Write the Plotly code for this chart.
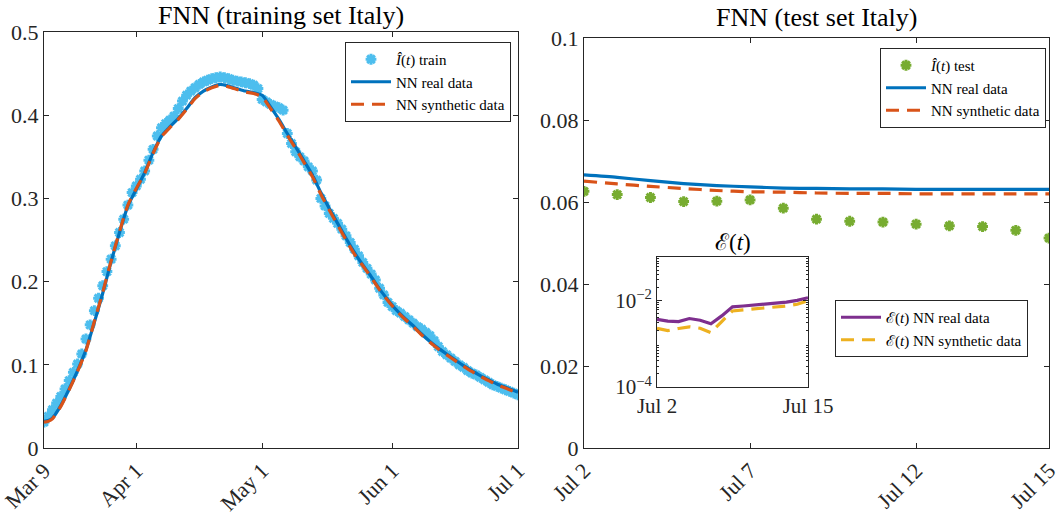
import plotly.graph_objects as go

# ---------------- data ----------------
# Left panel: training set (day index from Mar 9)
train_vals = [0.031, 0.038, 0.046, 0.054, 0.062, 0.071, 0.081, 0.091, 0.101, 0.113,
              0.131, 0.148, 0.165, 0.180, 0.195, 0.212, 0.227, 0.243, 0.259, 0.275,
              0.292, 0.307, 0.315, 0.323, 0.333, 0.346, 0.359, 0.375, 0.385, 0.390,
              0.394, 0.399, 0.408, 0.417, 0.424, 0.429, 0.433, 0.437, 0.440, 0.442,
              0.444, 0.445, 0.446, 0.445, 0.444, 0.442, 0.441, 0.440, 0.439, 0.438,
              0.436, 0.432, 0.419, 0.416, 0.413, 0.411, 0.409, 0.406, 0.378, 0.366,
              0.356, 0.350, 0.345, 0.338, 0.333, 0.322, 0.300, 0.291, 0.282, 0.276,
              0.270, 0.263, 0.255, 0.247, 0.239, 0.231, 0.223, 0.216, 0.209, 0.202,
              0.192, 0.184, 0.175, 0.170, 0.165, 0.162, 0.158, 0.154, 0.150, 0.146,
              0.143, 0.139, 0.135, 0.129, 0.122, 0.116, 0.112, 0.108, 0.104, 0.100,
              0.097, 0.093, 0.090, 0.088, 0.085, 0.082, 0.079, 0.076, 0.074, 0.072,
              0.070, 0.068, 0.066, 0.064]
train_days = list(range(len(train_vals)))

nn_days = [0, 1, 2, 4, 6, 8, 10, 12, 14, 16, 18, 20, 22, 24, 26, 28, 30, 32, 34, 36,
           38, 40, 42, 44, 46, 48, 50, 52, 54, 56, 58, 60, 62, 64, 66, 68, 70, 72, 74,
           76, 78, 80, 82, 84, 86, 88, 90, 92, 94, 96, 98, 100, 102, 104, 106, 108,
           110, 112, 113]
nn_real_train = [0.032, 0.033, 0.036, 0.051, 0.071, 0.093, 0.118, 0.151, 0.186, 0.224,
                 0.259, 0.291, 0.311, 0.331, 0.355, 0.375, 0.386, 0.396, 0.408, 0.421,
                 0.429, 0.434, 0.437, 0.435, 0.432, 0.429, 0.427, 0.424, 0.410, 0.395,
                 0.378, 0.362, 0.345, 0.328, 0.307, 0.288, 0.270, 0.252, 0.235, 0.220,
                 0.206, 0.191, 0.178, 0.166, 0.156, 0.147, 0.137, 0.128, 0.120, 0.113,
                 0.106, 0.099, 0.093, 0.087, 0.082, 0.077, 0.073, 0.069, 0.067]
nn_synth_train = [0.031, 0.032, 0.035, 0.050, 0.070, 0.092, 0.117, 0.152, 0.187, 0.225,
                  0.260, 0.292, 0.312, 0.330, 0.354, 0.374, 0.385, 0.395, 0.407, 0.420,
                  0.428, 0.433, 0.436, 0.434, 0.431, 0.428, 0.426, 0.422, 0.408, 0.393,
                  0.376, 0.360, 0.343, 0.326, 0.305, 0.286, 0.268, 0.250, 0.233, 0.219,
                  0.205, 0.190, 0.177, 0.165, 0.155, 0.146, 0.136, 0.127, 0.119, 0.112,
                  0.105, 0.098, 0.092, 0.086, 0.081, 0.076, 0.072, 0.068, 0.066]
train_tick_pos = [0, 22, 52, 83, 113]
train_tick_txt = ["Mar 9", "Apr 1", "May 1", "Jun 1", "Jul 1"]

# Right panel: test set (15 samples, Jul 2 .. Jul 15)
test_vals = [0.0626, 0.0618, 0.0611, 0.0601, 0.0602, 0.0605, 0.0585, 0.0558,
             0.0553, 0.0551, 0.0546, 0.0542, 0.0540, 0.0531, 0.0512]
nn_real_test = [0.0666, 0.0660, 0.0652, 0.0645, 0.0640, 0.0637, 0.0634, 0.0633,
                0.0632, 0.0632, 0.0631, 0.0631, 0.0631, 0.0631, 0.0631]
nn_synth_test = [0.0651, 0.0644, 0.0638, 0.0633, 0.0628, 0.0625, 0.0624, 0.0622,
                 0.0621, 0.0621, 0.0620, 0.0620, 0.0620, 0.0620, 0.0620]
test_idx = list(range(len(test_vals)))
test_tick_pos = [0, 5, 10, 14]
test_tick_txt = ["Jul 2", "Jul 7", "Jul 12", "Jul 15"]

# Inset: error E(t)
err_real = [0.00363, 0.00331, 0.00324, 0.00380, 0.00347, 0.00288, 0.00437, 0.00708,
            0.00741, 0.00776, 0.00813, 0.00851, 0.00912, 0.0100, 0.0115]
err_synth = [0.00227, 0.00200, 0.00224, 0.00245, 0.00227, 0.00180, 0.00324, 0.00569,
             0.00603, 0.00631, 0.00667, 0.00708, 0.00741, 0.00813, 0.00977]

# ---------------- styling ----------------
W, H = 1063, 514
FONT = "Liberation Serif"
AX = "#262626"
C_TRAIN = "#4DBEEE"
C_TEST = "#77AC30"
C_REAL = "#0072BD"
C_SYN = "#D95319"
C_EREAL = "#7E2F8E"
C_ESYN = "#EDB120"

def px_x(p):
    return p / W

def px_y(p):
    return 1 - p / H

fig = go.Figure()

# Left panel
fig.add_trace(go.Scatter(x=train_days, y=train_vals, mode="markers",
                         name="<i>Î</i>(<i>t</i>) train",
                         marker=dict(symbol="asterisk-open", size=9, color=C_TRAIN,
                                     line=dict(color=C_TRAIN, width=3)),
                         xaxis="x", yaxis="y", legend="legend"))
fig.add_trace(go.Scatter(x=nn_days, y=nn_real_train, mode="lines", name="NN real data",
                         line=dict(color=C_REAL, width=3.2, shape="spline", smoothing=0.6),
                         xaxis="x", yaxis="y", legend="legend"))
fig.add_trace(go.Scatter(x=nn_days, y=nn_synth_train, mode="lines", name="NN synthetic data",
                         line=dict(color=C_SYN, width=3.2, dash="13px,8px", shape="spline", smoothing=0.6),
                         xaxis="x", yaxis="y", legend="legend"))

# Right panel
fig.add_trace(go.Scatter(x=test_idx, y=test_vals, mode="markers",
                         name="<i>Î</i>(<i>t</i>) test",
                         marker=dict(symbol="asterisk-open", size=9, color=C_TEST,
                                     line=dict(color=C_TEST, width=3)),
                         xaxis="x2", yaxis="y2", legend="legend2"))
fig.add_trace(go.Scatter(x=test_idx, y=nn_real_test, mode="lines", name="NN real data",
                         line=dict(color=C_REAL, width=3.2, shape="spline", smoothing=0.6),
                         xaxis="x2", yaxis="y2", legend="legend2"))
fig.add_trace(go.Scatter(x=test_idx, y=nn_synth_test, mode="lines", name="NN synthetic data",
                         line=dict(color=C_SYN, width=3.2, dash="13px,8px", shape="spline", smoothing=0.6),
                         xaxis="x2", yaxis="y2", legend="legend2"))

# Inset
fig.add_trace(go.Scatter(x=test_idx, y=err_real, mode="lines",
                         name="ℰ(<i>t</i>) NN real data",
                         line=dict(color=C_EREAL, width=3.2),
                         xaxis="x3", yaxis="y3", legend="legend3"))
fig.add_trace(go.Scatter(x=test_idx, y=err_synth, mode="lines",
                         name="ℰ(<i>t</i>) NN synthetic data",
                         line=dict(color=C_ESYN, width=3.2, dash="13px,8px"),
                         xaxis="x3", yaxis="y3", legend="legend3"))

def axis_style(size):
    return dict(showline=True, linecolor=AX, linewidth=1, mirror="ticks",
                ticks="inside", ticklen=5, tickcolor=AX, tickwidth=1,
                showgrid=False, zeroline=False, automargin=False,
                tickfont=dict(family=FONT, size=size, color=AX))

L_x0, L_x1, L_y0, L_y1 = 44, 518, 448, 32
R_x0, R_x1, R_y0, R_y1 = 584, 1049, 448, 38
I_x0, I_x1, I_y0, I_y1 = 657, 808, 387, 257

LEG_FONT = dict(family=FONT, size=15, color="black")

fig.update_layout(
    width=W, height=H,
    margin=dict(l=0, r=0, t=0, b=0, autoexpand=False),
    paper_bgcolor="white", plot_bgcolor="white",
    font=dict(family=FONT, color=AX),
    xaxis=dict(domain=[px_x(L_x0), px_x(L_x1)], range=[0, 113], anchor="y",
               tickmode="array", tickvals=train_tick_pos, ticktext=train_tick_txt,
               tickangle=-45, **axis_style(22)),
    yaxis=dict(domain=[px_y(L_y0), px_y(L_y1)], range=[0, 0.5], anchor="x",
               tickmode="array", tickvals=[0, 0.1, 0.2, 0.3, 0.4, 0.5],
               ticktext=["0", "0.1", "0.2", "0.3", "0.4", "0.5"], **axis_style(22)),
    xaxis2=dict(domain=[px_x(R_x0), px_x(R_x1)], range=[0, 14], anchor="y2",
                tickmode="array", tickvals=test_tick_pos, ticktext=test_tick_txt,
                tickangle=-45, **axis_style(22)),
    yaxis2=dict(domain=[px_y(R_y0), px_y(R_y1)], range=[0, 0.1], anchor="x2",
                tickmode="array", tickvals=[0, 0.02, 0.04, 0.06, 0.08, 0.1],
                ticktext=["0", "0.02", "0.04", "0.06", "0.08", "0.1"], **axis_style(22)),
    xaxis3=dict(domain=[px_x(I_x0), px_x(I_x1)], range=[0, 14], anchor="y3",
                tickmode="array", tickvals=[0, 14], ticktext=["Jul 2", "Jul 15"],
                tickangle=0, **axis_style(21)),
    yaxis3=dict(domain=[px_y(I_y0), px_y(I_y1)], type="log", range=[-4, -1], anchor="x3",
                tickmode="array", tickvals=[1e-4, 1e-2],
                ticktext=["10<sup>−4</sup>", "10<sup>−2</sup>"],
                minor=dict(ticks="inside", ticklen=2, tickcolor=AX,
                           tickvals=[m * 10 ** e for e in (-4, -3, -2) for m in range(2, 10)]),
                **axis_style(21)),
    legend=dict(x=px_x(345), y=px_y(42), xanchor="left", yanchor="top",
                bgcolor="white", bordercolor=AX, borderwidth=1,
                font=LEG_FONT, itemwidth=40, tracegroupgap=0),
    legend2=dict(x=px_x(880), y=px_y(48), xanchor="left", yanchor="top",
                 bgcolor="white", bordercolor=AX, borderwidth=1,
                 font=LEG_FONT, itemwidth=40, tracegroupgap=0),
    legend3=dict(x=px_x(835), y=px_y(300), xanchor="left", yanchor="top",
                 bgcolor="white", bordercolor=AX, borderwidth=1,
                 font=LEG_FONT, itemwidth=40, tracegroupgap=0),
    annotations=[
        dict(text="FNN (training set Italy)", x=px_x((L_x0 + L_x1) / 2), y=px_y(15),
             xref="paper", yref="paper", showarrow=False, xanchor="center", yanchor="middle",
             font=dict(family=FONT, size=26, color="black")),
        dict(text="FNN (test set Italy)", x=px_x((R_x0 + R_x1) / 2), y=px_y(18),
             xref="paper", yref="paper", showarrow=False, xanchor="center", yanchor="middle",
             font=dict(family=FONT, size=26, color="black")),
        dict(text="ℰ(<i>t</i>)", x=px_x((I_x0 + I_x1) / 2), y=px_y(242),
             xref="paper", yref="paper", showarrow=False, xanchor="center", yanchor="middle",
             font=dict(family=FONT, size=23, color="black")),
    ],
)

fig.write_html("out.html")
